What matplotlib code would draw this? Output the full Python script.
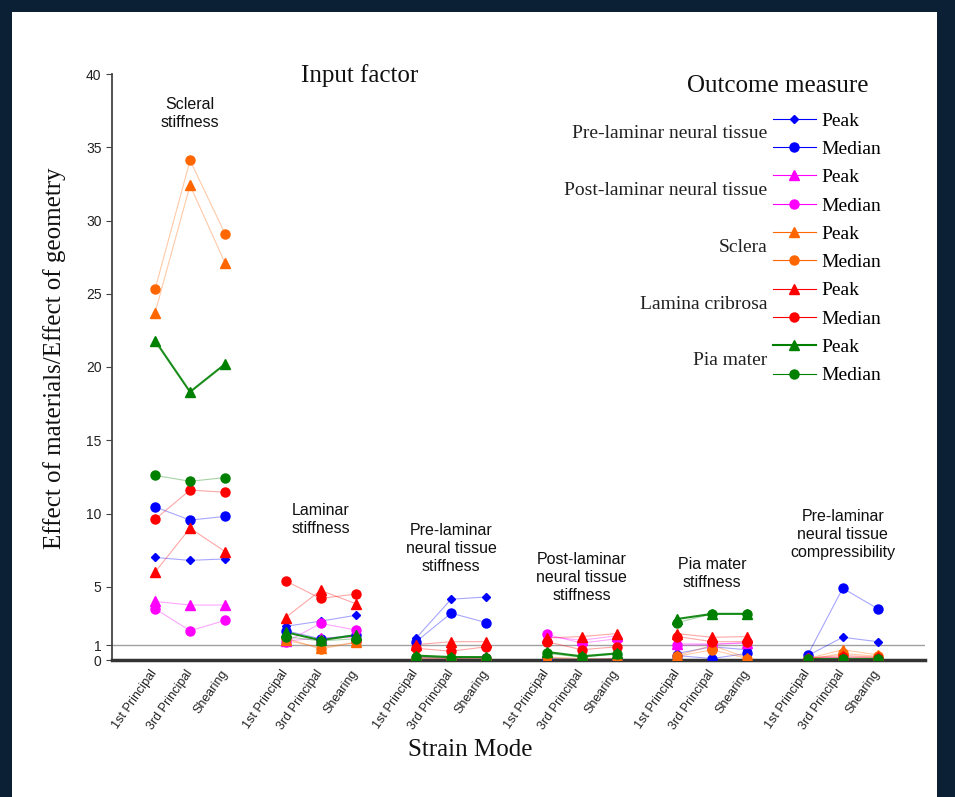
import matplotlib
matplotlib.use("Agg")
import matplotlib.pyplot as plt
from matplotlib.patches import Rectangle
import numpy as np

# groups (input factor) and strain modes
groups = ["Scleral\nstiffness", "Laminar\nstiffness", "Pre-laminar\nneural tissue\nstiffness",
          "Post-laminar\nneural tissue\nstiffness", "Pia mater\nstiffness",
          "Pre-laminar\nneural tissue\ncompressibility"]
modes = ["1st Principal", "3rd Principal", "Shearing"]
label_y = [37.3, 9.6, 7.6, 5.6, 5.9, 8.6]

# outcome measures, 3 values per group (6 groups)
pre_peak = [7.0, 6.8, 6.9, 2.3, 2.65, 3.05, 1.5, 4.15, 4.3, 0.1, 0.05, 0.1, 0.45, 0.9, 0.7, 0.3, 1.55, 1.25]
pre_median = [10.45, 9.55, 9.8, 2.0, 1.45, 1.7, 1.25, 3.2, 2.55, 0.05, 0.02, 0.05, 0.3, 0.1, 0.45, 0.35, 4.9, 3.5]
post_peak = [4.0, 3.75, 3.75, 1.3, 1.5, 1.55, 0.2, 0.15, 0.15, 1.6, 1.35, 1.65, 1.1, 1.1, 1.15, 0.15, 0.15, 0.1]
post_median = [3.5, 2.0, 2.7, 1.2, 2.5, 2.05, 0.15, 0.1, 0.15, 1.75, 1.15, 1.45, 1.0, 1.05, 1.2, 0.1, 0.1, 0.1]
sclera_peak = [23.7, 32.4, 27.1, 1.35, 0.85, 1.2, 0.15, 0.1, 0.1, 0.15, 0.05, 0.1, 0.3, 1.0, 0.15, 0.1, 0.7, 0.35]
sclera_median = [25.3, 34.1, 29.1, 1.5, 0.75, 1.2, 0.1, 0.05, 0.05, 0.2, 0.1, 0.05, 0.25, 0.7, 0.1, 0.05, 0.45, 0.25]
lc_peak = [6.0, 9.0, 7.4, 2.9, 4.75, 3.85, 1.05, 1.25, 1.25, 1.5, 1.6, 1.8, 1.8, 1.55, 1.6, 0.15, 0.3, 0.2]
lc_median = [9.6, 11.6, 11.45, 5.4, 4.2, 4.5, 0.8, 0.6, 0.9, 1.25, 0.7, 0.9, 1.6, 1.25, 1.25, 0.1, 0.2, 0.15]
pia_peak = [21.8, 18.3, 20.2, 1.9, 1.35, 1.7, 0.3, 0.2, 0.2, 0.55, 0.25, 0.45, 2.8, 3.15, 3.15, 0.05, 0.05, 0.05]
pia_median = [12.6, 12.2, 12.45, 1.6, 1.3, 1.45, 0.2, 0.15, 0.15, 0.45, 0.2, 0.4, 2.55, 3.15, 3.15, 0.05, 0.05, 0.05]

outcomes = ["Pre-laminar neural tissue", "Post-laminar neural tissue", "Sclera", "Lamina cribrosa", "Pia mater"]

# (values, colour, marker, markersize, linewidth, line alpha)
series = [
    (pre_peak, "#0000ff", "D", 4.5, 0.8, 0.35),
    (pre_median, "#0000ff", "o", 6.5, 0.8, 0.35),
    (post_peak, "#ff00ff", "^", 6.5, 0.8, 0.35),
    (post_median, "#ff00ff", "o", 6.5, 0.8, 0.35),
    (sclera_peak, "#ff6600", "^", 6.5, 0.8, 0.35),
    (sclera_median, "#ff6600", "o", 6.5, 0.8, 0.35),
    (lc_peak, "#ff0000", "^", 6.5, 0.8, 0.35),
    (lc_median, "#ff0000", "o", 6.5, 0.8, 0.35),
    (pia_peak, "#008000", "^", 6.5, 1.5, 0.9),
    (pia_median, "#008000", "o", 6.5, 0.8, 0.35),
]
names = ["Peak", "Median"] * 5

serif = "Liberation Serif"
sans = "Liberation Sans"
gap = 3.73

fig = plt.figure(figsize=(9.55, 7.97), dpi=100, facecolor="#0b1f35")
fig.add_artist(Rectangle((12 / 955, 0), 925 / 955, 1 - 12 / 797, transform=fig.transFigure,
                         facecolor="white", edgecolor="none", zorder=0))

ax = fig.add_axes([112 / 955, 1 - 660 / 797, 813 / 955, 586 / 797])
ax.set_facecolor("white")

handles = []
for vals, col, mk, ms, lw, la in series:
    vals = np.array(vals)
    for g in range(len(groups)):
        xs = g * gap + np.arange(3)
        ys = vals[g * 3:g * 3 + 3]
        ax.plot(xs, ys, color=col, lw=lw, alpha=la, zorder=2)
        ax.plot(xs, ys, ls="none", marker=mk, ms=ms, color=col, zorder=3)
    h, = plt.plot([], [], color=col, lw=lw, marker=mk, ms=ms,
                  markerfacecolor=col, markeredgecolor=col)
    handles.append(h)

ax.axhline(1, color="#a0a0a0", lw=1, zorder=1)

ax.set_xlim(-1.23, 22.0)
ax.set_ylim(0, 40)
ax.spines["top"].set_visible(False)
ax.spines["right"].set_visible(False)
ax.spines["left"].set_color("#444444")
ax.spines["left"].set_linewidth(1.3)
ax.spines["bottom"].set_color("#333333")
ax.spines["bottom"].set_linewidth(2.5)

ax.set_yticks([0, 1, 5, 10, 15, 20, 25, 30, 35, 40])
ax.tick_params(axis="y", labelsize=10, length=4, color="#444444", labelcolor="#222222")
for t in ax.get_yticklabels():
    t.set_fontfamily(sans)

xt = [g * gap + i for g in range(len(groups)) for i in range(3)]
ax.set_xticks(xt)
ax.set_xticklabels(modes * len(groups), rotation=55, ha="right", va="center",
                   rotation_mode="anchor", fontsize=9, fontfamily=sans, color="#222222")
ax.tick_params(axis="x", length=0, pad=8)

for g, lab in enumerate(groups):
    ax.text(g * gap + 1, label_y[g], lab, ha="center", va="center", fontsize=11.5,
            fontfamily=sans, linespacing=1.25, color="#111111")

fig.text(360 / 955, 1 - 76 / 797, "Input factor", ha="center", va="center",
         fontsize=18, fontfamily=serif, color="#111111")
fig.text(778 / 955, 1 - 86 / 797, "Outcome measure", ha="center", va="center",
         fontsize=18, fontfamily=serif, color="#111111")
fig.text(55 / 955, 1 - 358 / 797, "Effect of materials/Effect of geometry", rotation=90,
         ha="center", va="center", fontsize=18, fontfamily=serif, color="#111111")
fig.text(470 / 955, 1 - 750 / 797, "Strain Mode", ha="center", va="center",
         fontsize=18, fontfamily=serif, color="#111111")

fig.legend(handles, names, loc="upper left", bbox_to_anchor=(773 / 955, 1 - 112 / 797),
           frameon=False, prop={"family": serif, "size": 14}, handlelength=2.2,
           handletextpad=0.3, labelspacing=0.55, borderpad=0, borderaxespad=0)

for k, name in enumerate(outcomes):
    yc = 134 + k * 56.7
    fig.text(767 / 955, 1 - yc / 797, name, ha="right", va="center",
             fontsize=14, fontfamily=serif, color="#222222")

fig.savefig("out.png", dpi=100, facecolor=fig.get_facecolor())
